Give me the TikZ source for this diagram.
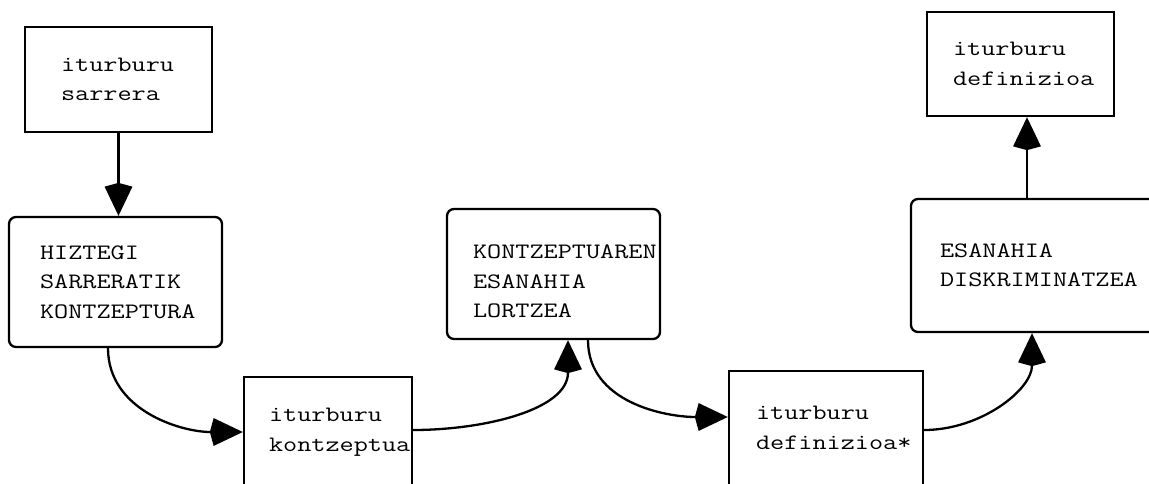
\documentclass[tikz,border=0pt]{standalone}
\usepackage{fontspec}
% a wide typewriter face for the box texts
\newfontfamily\boxfont{Latin Modern Mono}[FakeStretch=1.247]
\usetikzlibrary{arrows.meta}
% words in the boxes must never be hyphenated
\lefthyphenmin=64 \righthyphenmin=64 \hyphenpenalty=10000

\begin{document}
\begin{tikzpicture}[x=1pt,y=1pt,
  box/.style={draw, line width=2.3pt, inner sep=0pt, align=left,
    font=\boxfont\fontsize{22}{29.5}\selectfont},
  sqbox/.style={box},
  rndbox/.style={box, rounded corners=7pt},
  flow/.style={line width=2.3pt,
    -{Stealth[length=29pt,width=27pt,inset=-4pt]}}]
\useasboundingbox (0,0) rectangle (1149,-483);
\clip (0,0) rectangle (1149,-483);

% data boxes (square corners)
\node[sqbox, minimum width=187pt, minimum height=105pt, text width=115pt]
  (src) at (118.5,-79.5) {iturburu\\sarrera};
\node[sqbox, minimum width=168pt, minimum height=110pt, text width=118pt]
  (kon) at (328,-432) {iturburu\\kontzeptua};
\node[sqbox, minimum width=194pt, minimum height=114pt, text width=140pt]
  (def) at (826,-428) {iturburu\\definizioa*};
\node[sqbox, minimum width=187pt, minimum height=104pt, text width=135pt]
  (tgt) at (1020.5,-64) {iturburu\\definizioa};

% process boxes (rounded corners)
\node[rndbox, minimum width=213pt, minimum height=130pt, text width=151pt]
  (hiz) at (115.5,-282) {HIZTEGI\\SARRERATIK\\KONTZEPTURA};
\node[rndbox, minimum width=213pt, minimum height=130pt, text width=161pt]
  (ktz) at (553.5,-274) {\rule{0pt}{29pt}KONTZEPTUAREN\\ESANAHIA\\LORTZEA};
\node[rndbox, minimum width=254pt, minimum height=133pt, text width=196pt]
  (dis) at (1038,-265.5) {ESANAHIA\\DISKRIMINATZEA};

% flow
\draw[flow] (src.south) -- (src.south |- hiz.north);
\draw[flow] ([xshift=-7.5pt]hiz.south) to[out=-90,in=180] (kon.west);
\draw[flow] ([yshift=2pt]kon.east) to[out=0,in=-90] ([xshift=14.5pt]ktz.south);
\draw[flow] ([xshift=34.5pt]ktz.south) to[out=-90,in=180] ([yshift=11pt]def.west);
\draw[flow] ([yshift=-2pt]def.east) to[out=0,in=-90] ([xshift=-6pt]dis.south);
\draw[flow] ([xshift=6.5pt]tgt.south |- dis.north) -- ([xshift=6.5pt]tgt.south);
\end{tikzpicture}
\end{document}
